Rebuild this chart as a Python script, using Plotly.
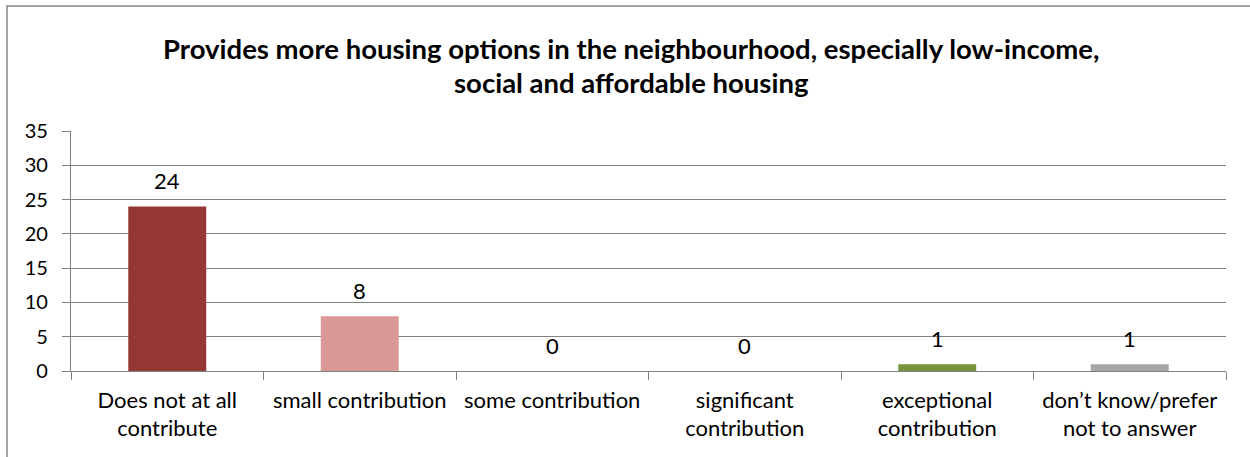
import plotly.graph_objects as go

categories = ["Does not at all<br>contribute", "small contribution", "some contribution",
              "significant<br>contribution", "exceptional<br>contribution",
              "don’t know/prefer<br>not to answer"]
values = [24, 8, 0, 0, 1, 1]
colors = ["#953735", "#D99795", "#E46C0A", "#4F81BD", "#77933C", "#A6A6A6"]
title_lines = ["Provides more housing options in the neighbourhood, especially low-income,",
               "social and affordable housing"]
y_ticks = [0, 5, 10, 15, 20, 25, 30, 35]

FONT = "Lato"
W, H = 1250, 457
L, R, T, B = 71, 24, 131, 86
pw, ph = W - L - R, H - T - B

fig = go.Figure()
fig.add_trace(go.Bar(x=categories, y=values, marker=dict(color=colors, line=dict(width=0)),
                     hoverinfo="x+y"))

for c, v in zip(categories, values):
    fig.add_annotation(x=c, y=v, text=str(v), showarrow=False, yshift=26,
                       yanchor="middle", font=dict(family=FONT, size=22, color="#000000"))

for i, line in enumerate(title_lines):
    fig.add_annotation(xref="paper", yref="paper", x=(631 - L) / pw,
                       y=1 + (T - (48 + 34 * i)) / ph, text="<b>" + line + "</b>",
                       showarrow=False, xanchor="center", yanchor="middle",
                       font=dict(family=FONT, size=27.5, color="#000000"))

# outer chart border (left and top visible)
fig.add_shape(type="rect", xref="paper", yref="paper",
              x0=(7 - L) / pw, x1=(1260 - L) / pw,
              y0=-(B + 20) / ph, y1=1 + (T - 6) / ph,
              line=dict(color="#868686", width=1.5), fillcolor="rgba(0,0,0,0)", layer="below")

fig.update_layout(
    width=W, height=H,
    margin=dict(l=L, r=R, t=T, b=B, autoexpand=False),
    paper_bgcolor="white", plot_bgcolor="white",
    bargap=0.595, showlegend=False,
    font=dict(family=FONT, size=21, color="#000000"),
)
fig.update_yaxes(range=[0, 35], tickvals=y_ticks, showgrid=True, gridcolor="#808080", gridwidth=1.3,
                 showline=True, linecolor="#808080", linewidth=1.3, ticks="outside", ticklen=8,
                 tickcolor="#808080", zeroline=False, tickfont=dict(family=FONT, size=20),
                 ticklabelstandoff=10)
fig.update_xaxes(showline=True, linecolor="#808080", linewidth=1.3, ticks="outside", ticklen=8,
                 tickcolor="#808080", tickson="boundaries", tickfont=dict(family=FONT, size=22),
                 ticklabelstandoff=9)

fig.write_html("out.html", config={"displayModeBar": False},
               post_script="document.body.style.margin='0';")
